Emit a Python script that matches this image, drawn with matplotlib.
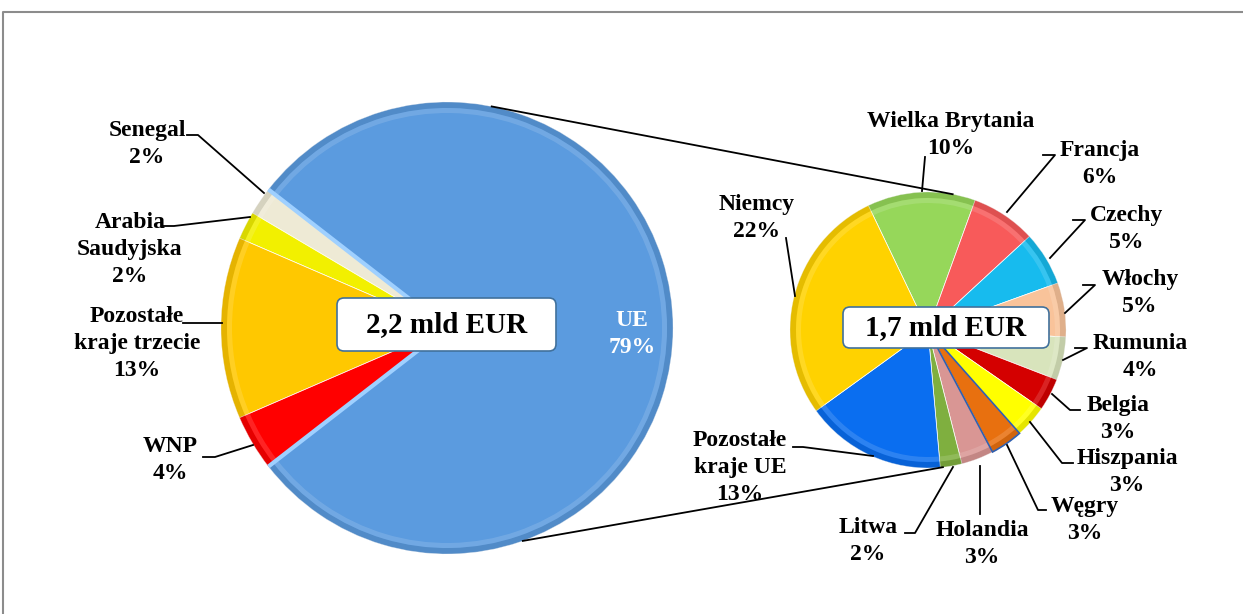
import numpy as np
import matplotlib
matplotlib.use("Agg")
import matplotlib.pyplot as plt
from matplotlib.patches import Wedge, FancyBboxPatch
import matplotlib.colors as mcolors

# lewy wykres - struktura eksportu ogółem (2,2 mld EUR)
left_labels = ["UE", "Senegal", "Arabia\nSaudyjska", "Pozostałe\nkraje trzecie", "WNP"]
left_values = [79, 2, 2, 13, 4]
left_colors = ["#5B9BDF", "#EEEAD5", "#F2F000", "#FFC800", "#FF0000"]

# prawy wykres - struktura eksportu do UE (1,7 mld EUR)
right_labels = ["Wielka Brytania", "Francja", "Czechy", "Włochy", "Rumunia", "Belgia",
                "Hiszpania", "Węgry", "Holandia", "Litwa", "Pozostałe\nkraje UE", "Niemcy"]
right_values = [10, 6, 5, 5, 4, 3, 3, 3, 3, 2, 13, 22]
right_colors = ["#96D75A", "#F85A5A", "#17BBEE", "#F9C39A", "#D8E4BC", "#D40000",
                "#FFFF00", "#E8700F", "#D99694", "#7FAF3F", "#0A6EF0", "#FFD200"]

left_total = "2,2 mld EUR"
right_total = "1,7 mld EUR"

W, H = 1243, 614
FONT = ["Liberation Serif", "DejaVu Serif"]
LINE = 27.5


def Y(y):
	return H - y


fig = plt.figure(figsize=(W / 100, H / 100), dpi=100)
ax = fig.add_axes([0, 0, 1, 1])

# ramka wykresu
ax.plot([3, 3, W], [0, Y(12), Y(12)], color="#8C8C8C", lw=1.5)


def bevel(wedges):
	# prosty efekt wypukłości: ciemniejszy brzeg i jaśniejszy pas wewnętrzny
	for w in wedges:
		c = np.array(mcolors.to_rgb(w.get_facecolor()))
		dark = tuple(c * 0.8)
		light = tuple(c + (1 - c) * 0.35)
		ax.add_patch(Wedge(w.center, w.r, w.theta1, w.theta2, width=6,
						   facecolor=dark, edgecolor="none", alpha=0.5, zorder=3))
		ax.add_patch(Wedge(w.center, w.r - 6, w.theta1, w.theta2, width=5,
						   facecolor=light, edgecolor="none", alpha=0.4, zorder=3))


# lewy wykres
lc = (447, Y(328))
lr = 226
lw_, _ = ax.pie(left_values, colors=left_colors, startangle=-left_values[0] / 100 * 180,
				counterclock=True, radius=lr, center=lc, explode=[0.02, 0, 0, 0, 0],
				wedgeprops=dict(edgecolor="#FFFFFF", linewidth=0.5), frame=True)
bevel(lw_)
ue = lw_[0]
for th in (ue.theta1, ue.theta2):
	t = np.radians(th)
	ax.plot([ue.center[0], ue.center[0] + ue.r * np.cos(t)],
			[ue.center[1], ue.center[1] + ue.r * np.sin(t)],
			color="#9FD0FF", lw=3, zorder=4, solid_capstyle="butt")

# prawy wykres
rc = (928, Y(330))
rr = 138
rw_, _ = ax.pie(right_values, colors=right_colors, startangle=115.6, counterclock=False,
				radius=rr, center=rc,
				wedgeprops=dict(edgecolor="#FFFFFF", linewidth=0.5), frame=True)
bevel(rw_)
wg = rw_[right_labels.index("Węgry")]
ax.add_patch(Wedge(wg.center, wg.r, wg.theta1, wg.theta2, facecolor="none",
				   edgecolor="#2E5FB0", lw=1.2, zorder=4))

ax.set_xlim(0, W)
ax.set_ylim(0, H)
ax.set_aspect("equal")
ax.axis("off")

# linie łączące
for a_l, a_r in [(78.6, 79.7), (-70.4, -83.8)]:
	p1 = (ue.center[0] + ue.r * np.cos(np.radians(a_l)), ue.center[1] + ue.r * np.sin(np.radians(a_l)))
	p2 = (rc[0] + rr * np.cos(np.radians(a_r)), rc[1] + rr * np.sin(np.radians(a_r)))
	ax.plot([p1[0], p2[0]], [p1[1], p2[1]], color="black", lw=1.3, zorder=5)

# etykiety: (x, y środka pierwszej linii, linia odniesienia)
left_pos = {
	"Senegal": (147, 130, [(187, 135), (198, 135), (264, 193)]),
	"Arabia\nSaudyjska": (130, 222, [(162, 226), (174, 226), (250, 217)]),
	"Pozostałe\nkraje trzecie": (137, 316, [(183, 323), (222, 323)]),
	"WNP": (170, 446, [(203, 457), (215, 457), (253, 445)]),
}
right_pos = {
	"Wielka Brytania": (951, 121, [(925, 157), (922, 191)]),
	"Francja": (1100, 150, [(1043, 155), (1055, 155), (1007, 212)]),
	"Czechy": (1127, 215, [(1073, 220), (1085, 220), (1050, 258)]),
	"Włochy": (1140, 279, [(1083, 285), (1095, 285), (1065, 313)]),
	"Rumunia": (1140, 343, [(1075, 348), (1087, 348), (1063, 360)]),
	"Belgia": (1118, 405, [(1052, 394), (1070, 410), (1080, 410)]),
	"Hiszpania": (1127, 458, [(1030, 422), (1062, 463), (1073, 463)]),
	"Węgry": (1085, 506, [(1007, 445), (1038, 510), (1046, 510)]),
	"Holandia": (982, 530, [(980, 466), (980, 514)]),
	"Litwa": (868, 527, [(953, 467), (915, 533), (905, 533)]),
	"Pozostałe\nkraje UE": (740, 440, [(793, 447), (803, 447), (873, 456)]),
	"Niemcy": (757, 204, [(786, 238), (795, 296)]),
}

txt = dict(fontsize=17, fontweight="bold", family=FONT, ha="center", va="center",
		   linespacing=1.38, zorder=6)


def put(label, value, pos):
	x, y, leader = pos
	n = label.count("\n") + 1
	yc = y + LINE * n / 2
	ax.text(x, Y(yc), f"{label}\n{value}%", **txt)
	xs = [p[0] for p in leader]
	ys = [Y(p[1]) for p in leader]
	ax.plot(xs, ys, color="black", lw=1.3, zorder=5)


for lab, val in zip(left_labels[1:], left_values[1:]):
	put(lab, val, left_pos[lab])
for lab, val in zip(right_labels, right_values):
	put(lab, val, right_pos[lab])

ax.text(632, Y(334), f"{left_labels[0]}\n{left_values[0]}%", color="white", **txt)

# pola z sumami
for (x0, y0, x1, y1), s in [((337, 298, 556, 351), left_total), ((843, 307, 1049, 348), right_total)]:
	ax.add_patch(FancyBboxPatch((x0, Y(y1)), x1 - x0, y1 - y0,
								boxstyle="round,pad=0,rounding_size=7",
								facecolor="white", edgecolor="#41719C", lw=1.2, zorder=7))
	ax.text((x0 + x1) / 2, Y((y0 + y1) / 2), s, fontsize=21, fontweight="bold",
			family=FONT, ha="center", va="center", zorder=8)

fig.savefig("out.png", dpi=100)
